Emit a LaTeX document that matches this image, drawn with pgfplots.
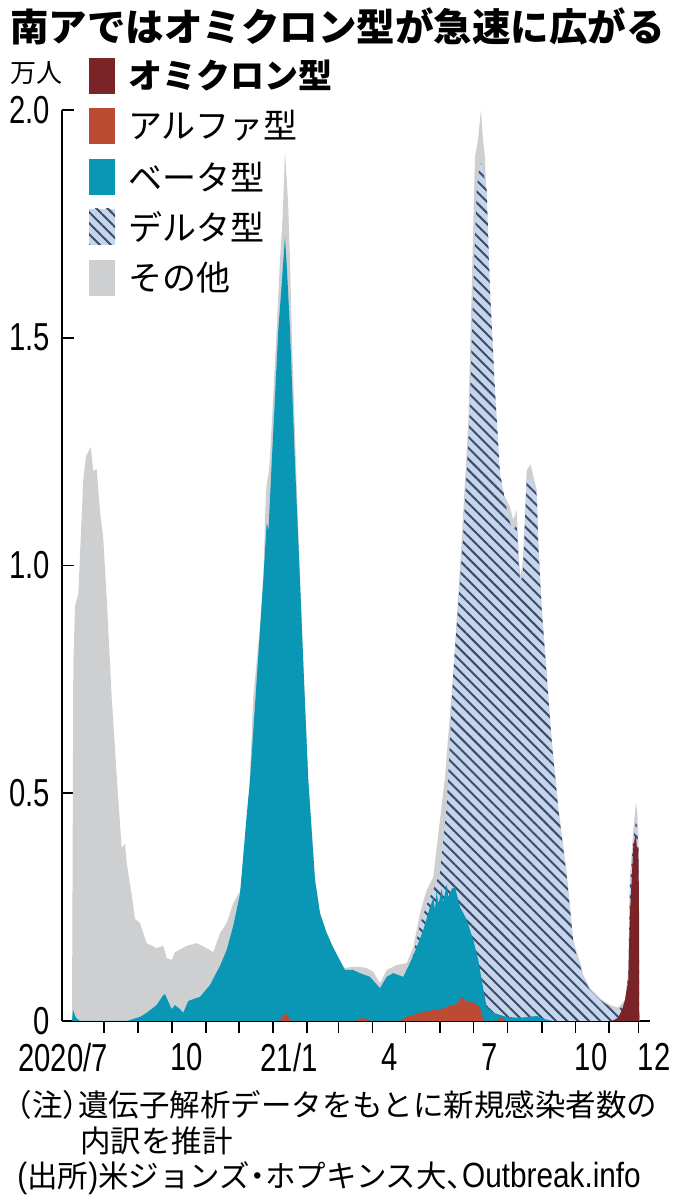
\documentclass[border=0pt]{standalone}
\usepackage{pgfplots}
\pgfplotsset{compat=1.18}
\usepackage{fontspec}
\usetikzlibrary{patterns.meta}
\setmainfont{Liberation Sans}
\newfontfamily\cjk{Noto Sans CJK JP}
\newfontfamily\cond[FakeStretch=0.75]{Liberation Sans}
\newfontfamily\condb[FakeStretch=0.85]{Liberation Sans}
\definecolor{omi}{HTML}{7A2428}
\definecolor{alp}{HTML}{BD4A33}
\definecolor{bet}{HTML}{0A97B6}
\definecolor{delbg}{HTML}{C6D5EE}
\definecolor{delln}{HTML}{3D4A66}
\definecolor{oth}{HTML}{CDCFD1}
\newcommand\lp{\makebox[0.5em][r]{（}}
\newcommand\rp{\makebox[0.5em][l]{）}}
\newcommand\lpn{\makebox[0.33em][c]{\condb\fontsize{35}{35}\selectfont (}}
\newcommand\rpn{\makebox[0.33em][c]{\condb\fontsize{35}{35}\selectfont )}}
\begin{document}
\begin{tikzpicture}[x=1pt,y=1pt]
\useasboundingbox (0,0) rectangle (680,1204);
% title
\node[anchor=west, inner sep=0pt] at (10,1177) {\cjk\bfseries\fontsize{38.5}{40}\selectfont 南アではオミクロン型が急速に広がる};
\node[anchor=west, inner sep=0pt] at (10,1131) {\cjk\fontsize{26}{28}\selectfont 万人};
\begin{axis}[
  at={(62pt,183pt)}, anchor=south west,
  scale only axis, width=588pt, height=911pt,
  xmin=-0.254, xmax=17.33, ymin=0, ymax=2,
  axis lines=left, axis line style={-, line width=1.8pt, black},
  clip=false,
  tick align=inside, major tick length=12pt,
  ytick={0,0.5,1,1.5,2}, yticklabels={0,0.5,1.0,1.5,2.0},
  ytick style={line width=1.8pt, black},
  yticklabel style={font=\cond\fontsize{39}{39}\selectfont, inner sep=0pt, anchor=east, xshift=-12pt},
  xtick={-0.224,3.484,6.534,9.554,12.545,15.566},
  xticklabels={2020/7,10,21/1,4,7,10},
  xtick style={draw=none},
  xticklabel style={font=\cond\fontsize{39}{39}\selectfont, inner sep=0pt, anchor=north, yshift=-22pt},
]
% Total (other on top)
\addplot[draw=none, fill=oth] coordinates {
(0.045,0) (0.066,0.40) (0.084,0.782) (0.135,0.911) (0.233,0.937) (0.383,1.190) (0.464,1.240) (0.604,1.260) (0.682,1.207) (0.783,1.212) (0.882,1.120) (0.981,1.058) (1.083,0.929) (1.232,0.711) (1.382,0.538) (1.531,0.380) (1.630,0.389) (1.681,0.347) (1.830,0.277) (1.929,0.224) (2.078,0.215) (2.279,0.171) (2.578,0.160) (2.775,0.165) (2.877,0.138) (3.026,0.134) (3.125,0.151) (3.475,0.165) (3.774,0.171) (4.073,0.160) (4.270,0.151) (4.471,0.193) (4.671,0.215) (4.868,0.259) (5.069,0.285) (5.269,0.380) (5.466,0.711) (5.667,0.867) (5.766,0.979) (5.84,1.15) (5.867,1.181) (5.92,1.20) (5.96,1.23) (6.166,1.517) (6.265,1.671) (6.346,1.769) (6.414,1.908) (6.504,1.802) (6.564,1.671) (6.615,1.517) (6.743,1.225) (6.863,0.968) (6.983,0.749) (7.111,0.529) (7.312,0.310) (7.461,0.237) (7.661,0.193) (7.850,0.162) (8.158,0.116) (8.448,0.119) (8.657,0.119) (8.858,0.116) (9.055,0.108) (9.255,0.083) (9.456,0.112) (9.755,0.123) (10.054,0.127) (10.251,0.162) (10.452,0.237) (10.652,0.288) (10.849,0.316) (11.049,0.441) (11.199,0.536) (11.447,0.764) (11.698,1.056) (11.896,1.313) (11.997,1.605) (12.096,1.897) (12.186,1.934) (12.275,2.000) (12.335,1.934) (12.395,1.897) (12.494,1.677) (12.596,1.458) (12.763,1.238) (12.895,1.166) (12.993,1.150) (13.143,1.128) (13.242,1.100) (13.343,1.122) (13.412,1.012) (13.457,0.975) (13.532,1.012) (13.642,1.210) (13.762,1.221) (13.831,1.199) (13.941,1.166) (13.989,1.056) (14.091,0.909) (14.240,0.764) (14.390,0.617) (14.587,0.470) (14.838,0.325) (15.036,0.178) (15.116,0.156) (15.236,0.130) (15.335,0.101) (15.535,0.072) (15.834,0.050) (16.133,0.035) (16.372,0.029) (16.581,0.046) (16.681,0.112) (16.731,0.316) (16.830,0.419) (16.911,0.479) (16.950,0.457) (16.986,0.397) (17.009,0)
} \closedcycle;
% Delta (cumulative top)
\addplot[draw=none, fill=delbg] coordinates {
(9.952,0) (9.952,0.097) (10.152,0.127) (10.251,0.145) (10.452,0.211) (10.652,0.255) (10.849,0.288) (11.049,0.325) (11.250,0.470) (11.447,0.764) (11.736,1.056) (11.926,1.313) (12.045,1.605) (12.147,1.824) (12.216,1.868) (12.275,1.884) (12.335,1.868) (12.446,1.824) (12.545,1.605) (12.694,1.385) (12.844,1.203) (13.044,1.122) (13.143,1.093) (13.242,1.078) (13.343,1.089) (13.412,0.990) (13.457,0.957) (13.532,0.990) (13.642,1.188) (13.792,1.188) (13.941,1.155) (13.989,1.045) (14.091,0.902) (14.240,0.757) (14.390,0.613) (14.587,0.465) (14.838,0.318) (15.036,0.173) (15.116,0.149) (15.236,0.123) (15.335,0.094) (15.535,0.068) (15.834,0.046) (16.133,0.031) (16.372,0.022) (16.581,0.040) (16.681,0.101) (16.731,0.299) (16.830,0.397) (16.911,0.441) (16.950,0.419) (16.986,0.375) (17.009,0)
} \closedcycle;
\addplot[draw=none, pattern={Lines[angle=-45,distance=7.8pt,line width=2pt]}, pattern color=delln] coordinates {
(9.952,0) (9.952,0.097) (10.152,0.127) (10.251,0.145) (10.452,0.211) (10.652,0.255) (10.849,0.288) (11.049,0.325) (11.250,0.470) (11.447,0.764) (11.736,1.056) (11.926,1.313) (12.045,1.605) (12.147,1.824) (12.216,1.868) (12.275,1.884) (12.335,1.868) (12.446,1.824) (12.545,1.605) (12.694,1.385) (12.844,1.203) (13.044,1.122) (13.143,1.093) (13.242,1.078) (13.343,1.089) (13.412,0.990) (13.457,0.957) (13.532,0.990) (13.642,1.188) (13.792,1.188) (13.941,1.155) (13.989,1.045) (14.091,0.902) (14.240,0.757) (14.390,0.613) (14.587,0.465) (14.838,0.318) (15.036,0.173) (15.116,0.149) (15.236,0.123) (15.335,0.094) (15.535,0.068) (15.834,0.046) (16.133,0.031) (16.372,0.022) (16.581,0.040) (16.681,0.101) (16.731,0.299) (16.830,0.397) (16.911,0.441) (16.950,0.419) (16.986,0.375) (17.009,0)
} \closedcycle;
% Beta (cumulative top)
\addplot[draw=none, fill=bet] coordinates {
(0.045,0) (0.075,0.024) (0.164,0.007) (0.284,0) (1.681,0) (2.078,0.009) (2.279,0.018) (2.578,0.035) (2.775,0.057) (2.826,0.059) (3.026,0.026) (3.125,0.035) (3.274,0.026) (3.373,0.018) (3.523,0.044) (3.672,0.048) (3.872,0.053) (4.171,0.079) (4.471,0.121) (4.671,0.156) (4.868,0.209) (5.069,0.279) (5.269,0.452) (5.368,0.529) (5.568,0.749) (5.766,0.968) (5.867,1.093) (5.921,1.078) (6.017,1.225) (6.214,1.517) (6.325,1.627) (6.414,1.721) (6.474,1.649) (6.564,1.517) (6.713,1.225) (6.863,0.968) (6.983,0.749) (7.111,0.529) (7.312,0.310) (7.461,0.237) (7.661,0.193) (7.850,0.162) (8.209,0.112) (8.448,0.112) (8.657,0.105) (8.955,0.097) (9.255,0.072) (9.456,0.097) (9.653,0.105) (9.952,0.097) (10.152,0.127) (10.353,0.162) (10.550,0.200) (10.750,0.250) (10.85,0.270) (10.90,0.245) (10.95,0.285) (11.00,0.255) (11.10,0.290) (11.15,0.262) (11.25,0.300) (11.30,0.272) (11.40,0.290) (11.498,0.294) (11.648,0.250) (11.746,0.237) (11.848,0.222) (12.045,0.178) (12.195,0.134) (12.296,0.090) (12.446,0.031) (12.643,0.018) (13.044,0.009) (13.442,0.007) (13.941,0.011) (14.190,0.004) (14.429,0)
} \closedcycle;
% Alpha (cumulative top)
\addplot[draw=none, fill=alp] coordinates {
(6.264,0) (6.355,0.013) (6.474,0.015) (6.594,0) (8.507,0) (8.747,0.007) (8.955,0) (9.853,0) (10.054,0.009) (10.452,0.018) (10.840,0.024) (11.049,0.024) (11.250,0.031) (11.447,0.035) (11.588,0.040) (11.698,0.053) (11.767,0.048) (11.848,0.042) (12.096,0.040) (12.246,0.029) (12.344,0.002) (12.365,0) (12.754,0) (12.874,0.009) (12.993,0)
} \closedcycle;
% Omicron
\addplot[draw=none, fill=omi] coordinates {
(16.193,0) (16.372,0.007) (16.491,0.024) (16.581,0.046) (16.681,0.090) (16.731,0.237) (16.782,0.310) (16.830,0.382) (16.881,0.404) (16.911,0.408) (16.941,0.375) (16.980,0.382) (17.0,0.266) (17.009,0)
} \closedcycle;
% month tick marks
\pgfplotsinvokeforeach{1.002,2.019,3.035,4.052,5.039,6.055,7.072,8.014,9.031,10.018,11.050,12.051,13.068,14.100,15.102,16.103,16.986}{
  \draw[line width=1.8pt, black] (axis cs:#1,0) -- ++(0pt,-12pt);
}
\node[anchor=north, inner sep=0pt, font=\cond\fontsize{39}{39}\selectfont, yshift=-22pt] at (axis cs:17.45,0) {12};
\end{axis}
% legend
\fill[omi] (89,1110) rectangle (115,1146);
\fill[alp] (89,1060) rectangle (115,1096);
\fill[bet] (89,1009) rectangle (115,1045);
\fill[delbg] (89,959) rectangle (115,995);
\fill[pattern={Lines[angle=-45,distance=7.8pt,line width=2pt]}, pattern color=delln] (89,959) rectangle (115,995);
\fill[oth] (89,908) rectangle (115,944);
\begin{scope}[every node/.style={anchor=west, inner sep=0pt, font=\cjk\fontsize{34}{36}\selectfont}]
\node at (128,1128) {\bfseries オミクロン型};
\node at (128,1078) {アルファ型};
\node at (128,1027) {ベータ型};
\node at (128,977) {デルタ型};
\node at (128,926) {その他};
\end{scope}
% notes
\begin{scope}[every node/.style={anchor=west, inner sep=0pt, font=\cjk\fontsize{30.5}{32}\selectfont}]
\node at (17,99) {\lp 注\rp 遺伝子解析データをもとに新規感染者数の};
\node at (80,63) {内訳を推計};
\node at (17,26) {\lpn 出所\rpn 米ジョンズ\makebox[0.5em][c]{・}ホプキンス大\makebox[0.5em][l]{、}{\condb\fontsize{35}{35}\selectfont Outbreak.info}};
\end{scope}
\end{tikzpicture}
\end{document}
